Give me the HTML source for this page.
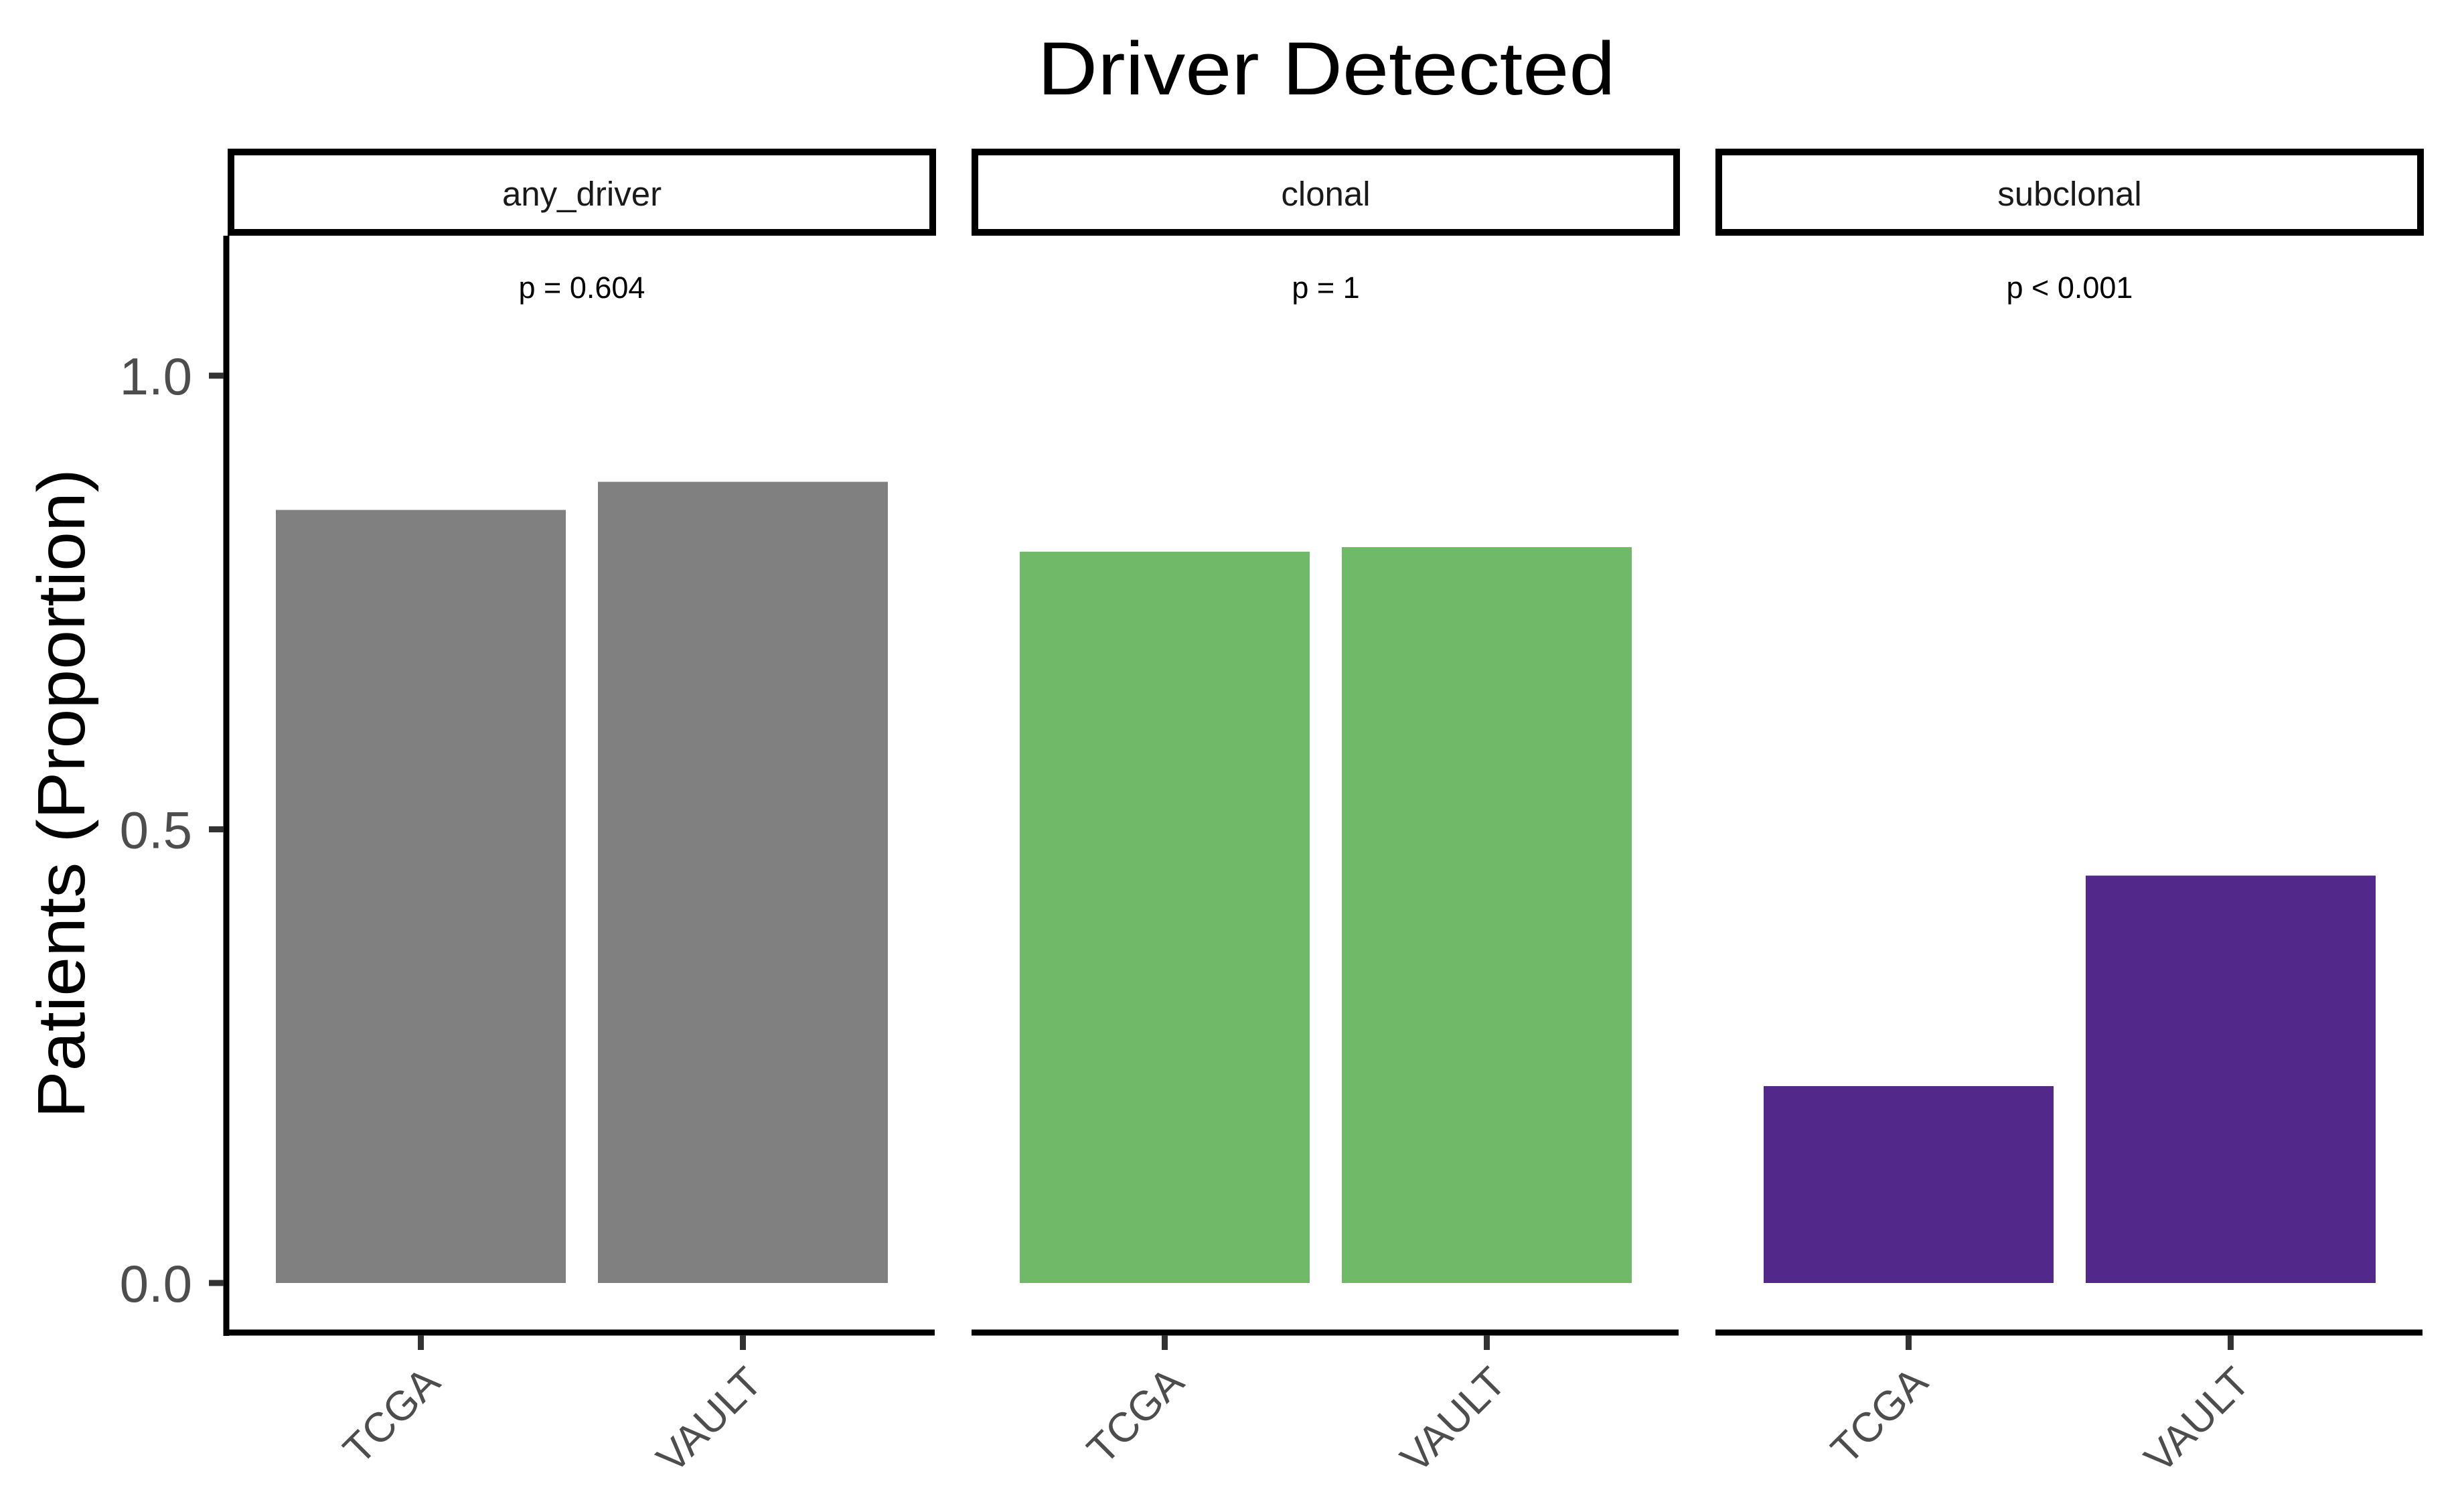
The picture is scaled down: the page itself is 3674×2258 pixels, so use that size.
<!DOCTYPE html>
<html><head><meta charset="utf-8"><style>html,body{margin:0;padding:0;background:#fff}svg{display:block}text{font-family:"Liberation Sans",Arial,sans-serif}</style></head>
<body>
<svg id="chart" width="3674" height="2258" viewBox="0 0 3674 2258" xmlns="http://www.w3.org/2000/svg">
<rect width="3674" height="2258" fill="#fff"/>
<text x="1981" y="141" font-size="112" text-anchor="middle" textLength="863" lengthAdjust="spacingAndGlyphs" fill="#000">Driver Detected</text>
<text transform="translate(126,1185) rotate(-90)" font-size="100" text-anchor="middle" textLength="970" lengthAdjust="spacingAndGlyphs" fill="#000">Patients (Proportion)</text>
<g id="plot"></g>
</svg>
<script>
const facets = ["any_driver", "clonal", "subclonal"];
const groups = ["TCGA", "VAULT"];
const anyDriverValues = [0.852, 0.883];
const clonalValues = [0.806, 0.811];
const subclonalValues = [0.217, 0.449];
const pLabels = ["p = 0.604", "p = 1", "p < 0.001"];
const yTicks = [0.0, 0.5, 1.0];
const yTickLabels = ["0.0", "0.5", "1.0"];
const facetColors = ["#808080", "#6fb969", "#53288b"];

const seriesByFacet = [anyDriverValues, clonalValues, subclonalValues];
const NS = "http://www.w3.org/2000/svg";
const g = document.getElementById("plot");
const y0 = 1916, yUnit = 1355;
function yScale(v){ return y0 - v * yUnit; }
const panelLeft = [340, 1451, 2562], panelW = 1058;
function xScale(p, i){ return panelLeft[p] + 72 + i * 481; }
const barW = 433;
function mk(tag, attrs){ const e = document.createElementNS(NS, tag); for (const k in attrs) e.setAttribute(k, attrs[k]); g.appendChild(e); return e; }

let e = mk("line", {x1:338, x2:338, y1:352, y2:1995, stroke:"#000", "stroke-width":9});


yTicks.forEach((t, k) => {
  const yy = yScale(t);
  let tk = mk("line", {x1:312, x2:334, y1:yy, y2:yy, stroke:"#333", "stroke-width":9});
  
  
  let tl = mk("text", {x:287, y:yy+28, "font-size":78, "text-anchor":"end", fill:"#4d4d4d"});
  tl.textContent = yTickLabels[k];
  
  
});

facets.forEach((f, p) => {
  const L = panelLeft[p];
  let s = mk("rect", {x:L+5, y:227, width:panelW-10, height:120, fill:"#fff", stroke:"#000", "stroke-width":10});
  
  
  let st = mk("text", {x:L+panelW/2, y:307, "font-size":51, "text-anchor":"middle", fill:"#1a1a1a"});
  st.textContent = f;
  
  
  let pt = mk("text", {x:L+panelW/2, y:445, "font-size":45, "text-anchor":"middle", fill:"#000"});
  pt.textContent = pLabels[p];
  
  
  let ax = mk("line", {x1:(p===0?334:L), x2:L+panelW-2, y1:1990, y2:1990, stroke:"#000", "stroke-width":9});
  
  
  const vals = seriesByFacet[p];
  groups.forEach((grp, i) => {
    const x = xScale(p, i), yt = yScale(vals[i]);
    let b = mk("rect", {x:x, y:yt, width:barW, height:y0-yt, fill:facetColors[p]});
    
    
    const cx = x + barW/2;
    let tk = mk("line", {x1:cx, x2:cx, y1:1994, y2:2016, stroke:"#333", "stroke-width":9});
    
    
    let tl = mk("text", {transform:"translate(" + (cx+32) + ",2068) rotate(-45)", "font-size":62, "text-anchor":"end", fill:"#4d4d4d"});
    tl.textContent = grp;
    
    
  });
});
</script>
</body></html>
